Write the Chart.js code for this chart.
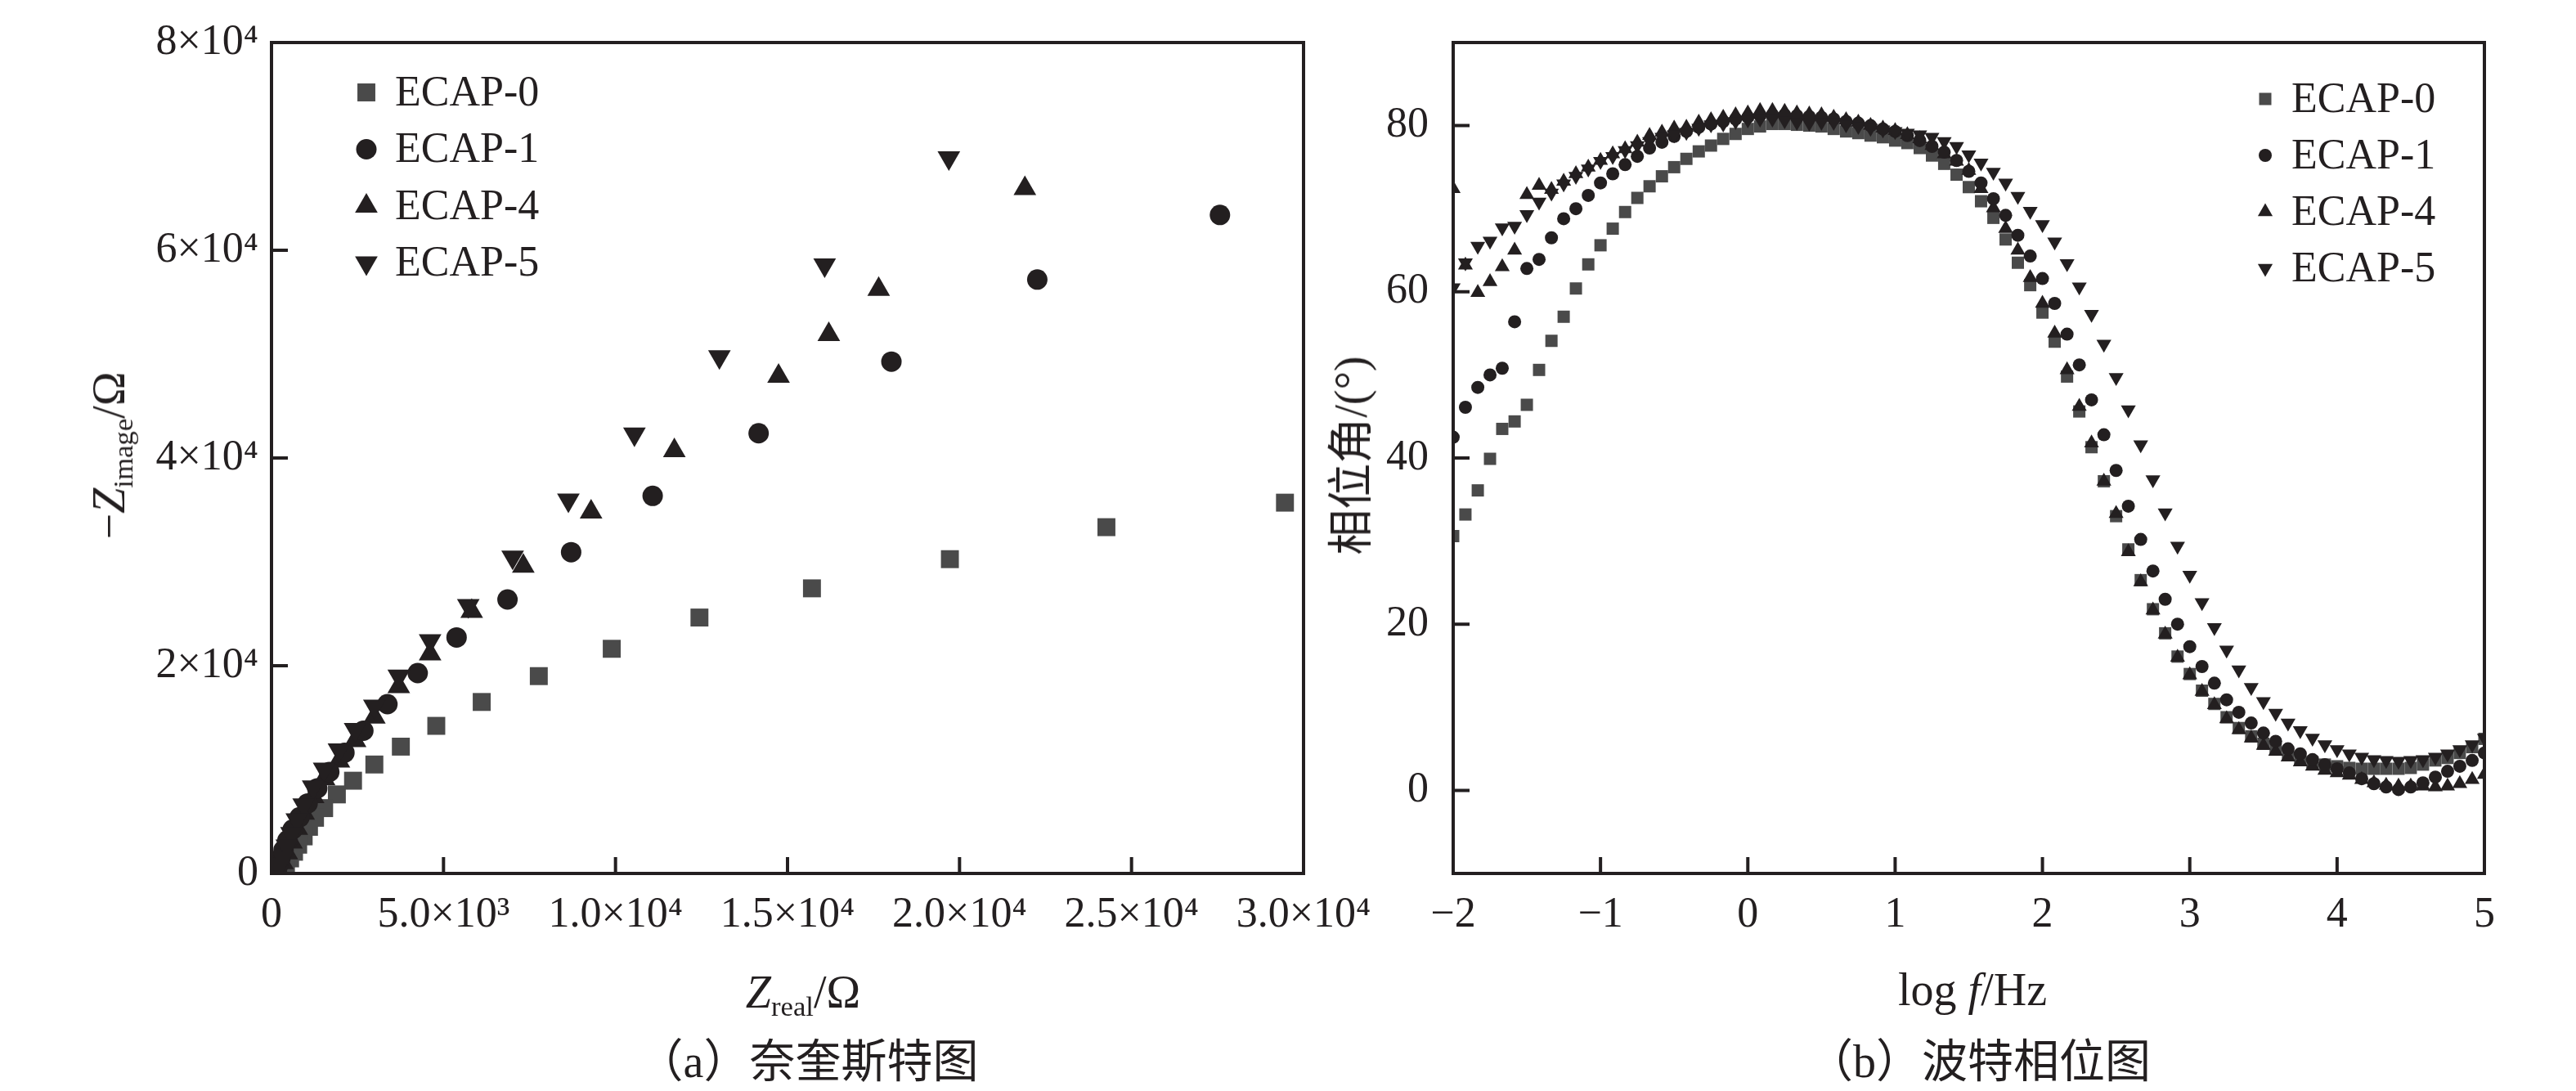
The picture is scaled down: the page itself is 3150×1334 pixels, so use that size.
<!DOCTYPE html>
<html>
<head>
<meta charset="utf-8">
<script src="https://cdn.jsdelivr.net/npm/chart.js@4.4.1/dist/chart.umd.min.js"></script>
<style>
html, body { margin: 0; padding: 0; background: #fff; }
body { width: 3150px; height: 1334px; position: relative; overflow: hidden;
       font-family: 'Liberation Serif', 'Times New Roman', 'Noto Sans CJK SC', serif; color: #231f20; }
canvas { position: absolute; top: 0; }
#nyq { left: 0; }
#bode { left: 1600px; }
.lbl { position: absolute; white-space: nowrap; font-size: 56px; line-height: 1; transform: translate(-50%, -50%); }
.rot { transform: translate(-50%, -50%) rotate(-90deg); }
.lbl i { font-style: italic; }
.lbl sub { font-size: 0.62em; vertical-align: -0.3em; line-height: 0; }
.cap { font-size: 56px; }
</style>
</head>
<body>
<canvas id="nyq" width="1700" height="1334"></canvas>
<canvas id="bode" width="1550" height="1334"></canvas>

<div class="lbl rot" style="left:133px; top:557px;">−<i>Z</i><sub>image</sub>/Ω</div>
<div class="lbl" style="left:982px; top:1213px;"><i>Z</i><sub>real</sub>/Ω</div>
<div class="lbl cap" style="left:988px; top:1298px;">（a）奈奎斯特图</div>

<div class="lbl rot" style="left:1652px; top:557px;">相位角/(°)</div>
<div class="lbl" style="left:2412px; top:1210px;">log <i>f</i>/Hz</div>
<div class="lbl cap" style="left:2420px; top:1298px;">（b）波特相位图</div>

<script>
var seriesNames = ['ECAP-0', 'ECAP-1', 'ECAP-4', 'ECAP-5'];

// Nyquist plot, (Z_real, -Z_image) in ohm
var nyqX0 = [29460, 24270, 19720, 15710, 12440, 9890, 7770, 6110, 4790, 3760, 2990, 2370, 1900, 1530, 1265, 1090, 935, 775, 655, 540, 420, 300];
var nyqY0 = [35700, 33340, 30260, 27450, 24640, 21630, 19000, 16510, 14210, 12210, 10490, 8930, 7610, 6290, 5360, 4490, 3570, 2770, 2090, 1450, 790, 270];
var nyqX1 = [27570, 22260, 18020, 14160, 11080, 8710, 6860, 5380, 4250, 3370, 2670, 2120, 1680, 1330, 1050, 815, 615, 460, 350, 260, 180];
var nyqY1 = [63400, 57180, 49280, 42380, 36350, 30930, 26380, 22720, 19290, 16300, 13740, 11620, 9770, 8190, 6740, 5410, 4230, 3170, 2250, 1450, 660];
var nyqX4 = [21900, 17650, 16200, 14740, 11710, 9290, 7320, 5820, 4610, 3700, 2990, 2430, 1960, 1530, 1210, 935, 735, 580, 445, 320, 215];
var nyqY4 = [65950, 56240, 51890, 47870, 40710, 34810, 29590, 25240, 21150, 18000, 15050, 12800, 10830, 9120, 7400, 5810, 4360, 3040, 1980, 1050, 300];
var nyqX5 = [19690, 16080, 13020, 10550, 8630, 7010, 5720, 4610, 3700, 2990, 2430, 1960, 1530, 1210, 935, 735, 580, 445, 320, 215];
var nyqY5 = [68890, 58580, 49740, 42310, 35950, 30460, 25780, 22400, 19000, 16100, 13850, 11890, 10040, 8320, 6600, 5150, 3830, 2640, 1510, 700];

var nyqXTicks = [0, 5000, 10000, 15000, 20000, 25000, 30000];
var nyqXLabels = ['0', '5.0×10³', '1.0×10⁴', '1.5×10⁴', '2.0×10⁴', '2.5×10⁴', '3.0×10⁴'];
var nyqYTicks = [0, 20000, 40000, 60000, 80000];
var nyqYLabels = ['0', '2×10⁴', '4×10⁴', '6×10⁴', '8×10⁴'];

// Bode phase plot, log f (Hz) and phase angle in degrees
var logF = [
  -2, -1.917, -1.833, -1.75, -1.667, -1.583, -1.5, -1.417, -1.333, -1.25, -1.167, -1.083,
  -1, -0.917, -0.833, -0.75, -0.667, -0.583, -0.5, -0.417, -0.333, -0.25, -0.167, -0.083,
  0, 0.083, 0.167, 0.25, 0.333, 0.417, 0.5, 0.583, 0.667, 0.75, 0.833, 0.917,
  1, 1.083, 1.167, 1.25, 1.333, 1.417, 1.5, 1.583, 1.667, 1.75, 1.833, 1.917,
  2, 2.083, 2.167, 2.25, 2.333, 2.417, 2.5, 2.583, 2.667, 2.75, 2.833, 2.917,
  3, 3.083, 3.167, 3.25, 3.333, 3.417, 3.5, 3.583, 3.667, 3.75, 3.833, 3.917,
  4, 4.083, 4.167, 4.25, 4.333, 4.417, 4.5, 4.583, 4.667, 4.75, 4.833, 4.917,
  5
];
var phase0 = [
  30.6, 33.2, 36.1, 39.9, 43.5, 44.4, 46.4, 50.6, 54.1, 57.0, 60.4, 63.3,
  65.6, 67.6, 69.6, 71.3, 72.7, 73.9, 75.0, 76.0, 76.9, 77.6, 78.4, 79.0,
  79.6, 79.9, 80.2, 80.2, 80.1, 80.0, 79.9, 79.6, 79.3, 79.1, 78.8, 78.6,
  78.2, 77.9, 77.3, 76.4, 75.4, 74.1, 72.6, 70.9, 68.9, 66.3, 63.5, 60.8,
  57.5, 54.0, 49.8, 45.6, 41.3, 37.2, 33.0, 29.0, 25.3, 21.8, 18.9, 16.1,
  14.0, 12.0, 10.4, 8.8, 7.5, 6.5, 5.6, 4.9, 4.3, 3.8, 3.4, 3.1,
  2.9, 2.7, 2.6, 2.6, 2.6, 2.6, 2.7, 3.1, 3.6, 3.9, 4.5, 5.2, 6.2
];
var phase1 = [
  42.5, 46.1, 48.5, 50.0, 50.8, 56.4, 62.8, 63.9, 66.5, 68.8, 70.0, 71.6,
  73.1, 74.2, 75.3, 76.3, 77.3, 78.0, 78.7, 79.3, 79.8, 80.2, 80.5, 80.8,
  81.0, 81.2, 81.3, 81.3, 81.2, 81.1, 81.0, 80.8, 80.5, 80.3, 80.0, 79.6,
  79.3, 78.8, 78.2, 77.5, 76.8, 75.8, 74.5, 73.1, 71.2, 69.2, 66.8, 64.3,
  61.6, 58.6, 54.9, 51.2, 47.0, 42.8, 38.5, 34.2, 30.2, 26.4, 23.0, 20.0,
  17.3, 14.9, 12.9, 10.9, 9.4, 8.1, 6.9, 5.9, 5.0, 4.4, 3.7, 3.1,
  2.6, 2.1, 1.4, 0.8, 0.4, 0.1, 0.4, 0.9, 1.6, 2.3, 2.9, 3.6, 4.5
];
var phase4 = [
  72.4, 63.2, 59.9, 61.2, 63.0, 65.0, 71.7, 72.8, 72.3, 73.3, 74.2, 75.0,
  75.8, 76.6, 77.2, 78.0, 78.8, 79.2, 79.7, 79.8, 80.4, 80.7, 81.0, 81.3,
  81.5, 81.8, 81.8, 81.7, 81.5, 81.4, 81.3, 81.0, 80.7, 80.4, 80.0, 79.7,
  79.4, 78.9, 78.4, 77.6, 76.6, 75.7, 74.6, 72.4, 70.1, 67.6, 65.0, 61.7,
  58.6, 55.0, 50.6, 46.2, 41.8, 37.2, 33.3, 28.7, 25.1, 21.7, 18.8, 16.0,
  13.9, 11.9, 10.3, 8.6, 7.3, 6.3, 5.4, 4.7, 4.0, 3.4, 2.9, 2.4,
  2.1, 1.8, 1.3, 0.9, 0.6, 0.5, 0.5, 0.5, 0.4, 0.5, 0.8, 1.3, 1.9
];
var phase5 = [
  60.5, 63.5, 65.5, 66.1, 67.7, 67.9, 69.3, 70.8, 71.9, 73.0, 73.9, 74.8,
  75.7, 76.3, 77.0, 77.6, 78.1, 78.6, 78.9, 79.2, 79.7, 80.1, 80.2, 80.5,
  80.7, 80.8, 80.8, 80.6, 80.4, 80.3, 80.4, 80.4, 80.1, 79.9, 79.7, 79.5,
  79.3, 79.1, 78.9, 78.6, 78.1, 77.5, 76.5, 75.5, 74.4, 73.1, 71.5, 69.7,
  68.1, 66.0, 63.4, 60.6, 57.3, 53.7, 49.7, 45.8, 41.6, 37.4, 33.4, 29.4,
  25.9, 22.6, 19.6, 16.9, 14.5, 12.4, 10.7, 9.3, 8.1, 7.2, 6.3, 5.5,
  4.9, 4.4, 4.0, 3.7, 3.6, 3.5, 3.6, 3.7, 4.0, 4.4, 4.9, 5.5, 6.3
];

var bodeXTicks = [-2, -1, 0, 1, 2, 3, 4, 5];
var bodeXLabels = ['−2', '−1', '0', '1', '2', '3', '4', '5'];
var bodeYTicks = [0, 20, 40, 60, 80];
var bodeYLabels = ['0', '20', '40', '60', '80'];

var ink = '#231f20';
var grey = '#4a4a4a';
var serif = "'Liberation Serif', 'Times New Roman', serif";

Chart.defaults.font.family = serif;
Chart.defaults.color = ink;

function pairs(xs, ys) {
  return xs.map(function (x, i) { return { x: x, y: ys[i] }; });
}

function drawMarker(ctx, style, rot, x, y, r, color) {
  ctx.save();
  ctx.fillStyle = color;
  ctx.beginPath();
  if (style === 'rect') {
    var s = r * Math.SQRT1_2;
    ctx.rect(x - s, y - s, 2 * s, 2 * s);
  } else if (style === 'circle') {
    ctx.arc(x, y, r, 0, Math.PI * 2);
  } else {
    var a = (rot || 0) * Math.PI / 180;
    for (var k = 0; k < 3; k++) {
      var px = x + Math.sin(a) * r, py = y - Math.cos(a) * r;
      if (k === 0) ctx.moveTo(px, py); else ctx.lineTo(px, py);
      a += 2 * Math.PI / 3;
    }
    ctx.closePath();
  }
  ctx.fill();
  ctx.restore();
}

// box, inward ticks and the legend inside the plot
var framePlugin = {
  id: 'frame',
  afterDatasetsDraw: function (chart, args, opts) {
    var ctx = chart.ctx, a = chart.chartArea, sx = chart.scales.x, sy = chart.scales.y;
    ctx.save();
    ctx.strokeStyle = ink;
    ctx.lineWidth = 4;
    ctx.beginPath();
    sx.ticks.forEach(function (t) {
      var px = sx.getPixelForValue(t.value);
      ctx.moveTo(px, a.bottom); ctx.lineTo(px, a.bottom - opts.tickLen);
    });
    sy.ticks.forEach(function (t) {
      var py = sy.getPixelForValue(t.value);
      ctx.moveTo(a.left, py); ctx.lineTo(a.left + opts.tickLen, py);
    });
    ctx.stroke();
    ctx.strokeRect(a.left, a.top, a.right - a.left, a.bottom - a.top);

    ctx.font = opts.fontSize + 'px ' + serif;
    ctx.fillStyle = ink;
    ctx.textBaseline = 'middle';
    ctx.textAlign = 'left';
    chart.data.datasets.forEach(function (ds, i) {
      var y = a.top + opts.top + i * opts.rowGap;
      drawMarker(ctx, ds.pointStyle, ds.rotation, a.left + opts.markX, y, ds.pointRadius, ds.backgroundColor);
      ctx.fillStyle = ink;
      ctx.fillText(ds.label, a.left + opts.textX, y + 2);
    });
    ctx.restore();
  }
};

function fixAxis(size, horizontal) {
  return function (scale) {
    if (horizontal) scale.height = size; else scale.width = size;
    scale.paddingLeft = 0; scale.paddingRight = 0;
    scale.paddingTop = 0; scale.paddingBottom = 0;
  };
}

function setTicks(values) {
  return function (scale) {
    scale.ticks = values.map(function (v) { return { value: v }; });
  };
}

function makeDatasets(points, radii) {
  var styles = [
    { pointStyle: 'rect', rotation: 0, color: grey },
    { pointStyle: 'circle', rotation: 0, color: ink },
    { pointStyle: 'triangle', rotation: 0, color: ink },
    { pointStyle: 'triangle', rotation: 180, color: ink }
  ];
  return points.map(function (pts, i) {
    return {
      label: seriesNames[i],
      data: pts,
      showLine: false,
      pointStyle: styles[i].pointStyle,
      rotation: styles[i].rotation,
      pointRadius: radii[i],
      pointHoverRadius: radii[i],
      backgroundColor: styles[i].color,
      borderColor: styles[i].color,
      borderWidth: 0,
      order: [4, 2, 3, 1][i]
    };
  });
}

function baseOptions(o) {
  return {
    responsive: false,
    animation: false,
    devicePixelRatio: 1,
    layout: { padding: o.padding },
    plugins: {
      legend: { display: false },
      tooltip: { enabled: false },
      frame: o.frame
    },
    scales: {
      x: {
        type: 'linear', min: o.xMin, max: o.xMax,
        afterBuildTicks: setTicks(o.xTicks),
        afterFit: fixAxis(o.xAxisH, true),
        grid: { display: false, drawTicks: false },
        border: { display: false },
        ticks: {
          padding: o.xPad, maxRotation: 0, autoSkip: false,
          font: { size: o.fontSize, family: serif }, color: ink,
          callback: function (v) { return o.xLabels[o.xTicks.indexOf(v)]; }
        }
      },
      y: {
        type: 'linear', min: o.yMin, max: o.yMax,
        afterBuildTicks: setTicks(o.yTicks),
        afterFit: fixAxis(o.yAxisW, false),
        grid: { display: false, drawTicks: false },
        border: { display: false },
        ticks: {
          padding: o.yPad, autoSkip: false,
          font: { size: o.fontSize, family: serif }, color: ink,
          callback: function (v) { return o.yLabels[o.yTicks.indexOf(v)]; }
        }
      }
    }
  };
}

new Chart(document.getElementById('nyq'), {
  type: 'scatter',
  data: {
    datasets: makeDatasets([
      pairs(nyqX0, nyqY0), pairs(nyqX1, nyqY1), pairs(nyqX4, nyqY4), pairs(nyqX5, nyqY5)
    ], [15.5, 12.5, 16, 16])
  },
  options: baseOptions({
    padding: { left: 0, top: 52, right: 106, bottom: 0 },
    xMin: 0, xMax: 30000, xTicks: nyqXTicks, xLabels: nyqXLabels,
    yMin: 0, yMax: 80000, yTicks: nyqYTicks, yLabels: nyqYLabels,
    xAxisH: 266, yAxisW: 332, xPad: 20, yPad: 16, fontSize: 52,
    frame: { tickLen: 20, fontSize: 52, markX: 116, textX: 151, top: 61, rowGap: 69.5 }
  }),
  plugins: [framePlugin]
});

new Chart(document.getElementById('bode'), {
  type: 'scatter',
  data: {
    datasets: makeDatasets([
      pairs(logF, phase0), pairs(logF, phase1), pairs(logF, phase4), pairs(logF, phase5)
    ], [10.6, 8, 10.5, 10.5])
  },
  options: baseOptions({
    padding: { left: 0, top: 52, right: 112, bottom: 0 },
    xMin: -2, xMax: 5, xTicks: bodeXTicks, xLabels: bodeXLabels,
    yMin: -10, yMax: 90, yTicks: bodeYTicks, yLabels: bodeYLabels,
    xAxisH: 266, yAxisW: 177, xPad: 20, yPad: 30, fontSize: 52,
    frame: { tickLen: 20, fontSize: 52, markX: 993, textX: 1025, top: 69, rowGap: 69 }
  }),
  plugins: [framePlugin]
});
</script>
</body>
</html>
